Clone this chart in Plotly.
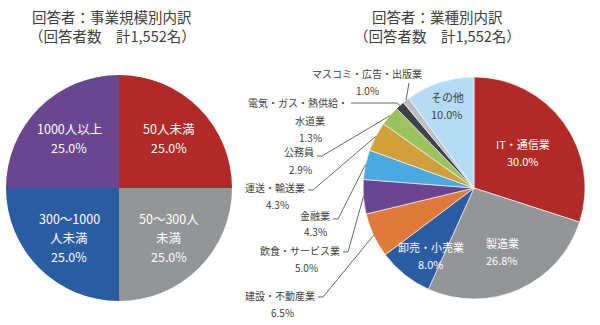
import math
import plotly.graph_objects as go

# ---------------- data ----------------
size_labels = ["50人未満", "50～300人未満", "300～1000人未満", "1000人以上"]
size_values = [25.0, 25.0, 25.0, 25.0]

ind_labels = ["IT・通信業", "製造業", "卸売・小売業", "建設・不動産業", "飲食・サービス業",
              "金融業", "運送・輸送業", "公務員", "電気・ガス・熱供給・水道業",
              "マスコミ・広告・出版業", "その他"]
ind_values = [30.0, 26.8, 8.0, 6.5, 5.0, 4.3, 4.3, 2.9, 1.3, 1.0, 10.0]

title_left = ["回答者：事業規模別内訳", "（回答者数　計1,552名）"]
title_right = ["回答者：業種別内訳", "（回答者数　計1,552名）"]

# ---------------- style ----------------
W, H = 600, 325
FONT = "Noto Sans CJK JP"
TEXT = "#404040"
size_colors = ["#B02B27", "#949597", "#2A5CA2", "#6A4590"]
ind_colors = ["#B02B27", "#949597", "#2A5CA2", "#E07A3A", "#6A4590",
              "#4BA9E1", "#D2A03A", "#9BC45E", "#3E434A", "#BCBEC0", "#B5DCF3"]

LEFT = (119, 188, 113)    # centre x, centre y, radius (pixels)
RIGHT = (474, 188, 111)


def px(x):
    return x / W


def py(y):
    return 1 - y / H


def domain(c):
    cx, cy, r = c
    return dict(x=[px(cx - r), px(cx + r)], y=[py(cy + r), py(cy - r)])


def mid_angles(values):
    total = sum(values)
    acc, out = 0.0, []
    for v in values:
        out.append(360.0 * (acc + v / 2) / total)
        acc += v
    return out


def polar(c, ang, frac):
    cx, cy, r = c
    a = math.radians(ang)
    return cx + frac * r * math.sin(a), cy - frac * r * math.cos(a)


def text_width(s, size):
    return sum(size * (0.55 if ord(ch) < 128 else 1.0) for ch in s)


annotations = []
shapes = []


def add_text(x, y, s, size, color, anchor="center"):
    annotations.append(dict(
        x=px(x), y=py(y), xref="paper", yref="paper", text=s, showarrow=False,
        xanchor=anchor, yanchor="middle",
        font=dict(family=FONT, size=size, color=color)))


def add_block(x, y, lines, size, color, spacing):
    top = y - spacing * (len(lines) - 1) / 2
    for i, s in enumerate(lines):
        add_text(x, top + i * spacing, s, size, color)


fig = go.Figure()
fig.add_trace(go.Pie(
    labels=size_labels, values=size_values, sort=False, direction="clockwise",
    rotation=0, marker=dict(colors=size_colors, line=dict(width=0)),
    textinfo="none", hoverinfo="label+percent", domain=domain(LEFT), showlegend=False))
fig.add_trace(go.Pie(
    labels=ind_labels, values=ind_values, sort=False, direction="clockwise",
    rotation=0, marker=dict(colors=ind_colors, line=dict(color="white", width=0.6)),
    textinfo="none", hoverinfo="label+percent", domain=domain(RIGHT), showlegend=False))

# titles
for cx, lines in ((112, title_left), (437, title_right)):
    add_text(cx, 17, lines[0], 14.5, TEXT)
    add_text(cx, 36, lines[1], 14.5, TEXT)

# labels inside the company-size pie
size_display = [["50人未満"], ["50～300人", "未満"], ["300～1000", "人未満"], ["1000人以上"]]
for ang, lines, v in zip(mid_angles(size_values), size_display, size_values):
    x, y = polar(LEFT, ang, 0.62)
    add_block(x, y, lines + [f"{v:.1f}%"], 12.5, "white", 19)

# labels inside the industry pie: (lines, radius fraction, angle offset, colour)
ind_angles = mid_angles(ind_values)
inside = {
    0: (["IT・通信業"], 0.55, 0, "white"),
    1: (["製造業"], 0.63, 0, "white"),
    2: (["卸売・小売業"], 0.72, -6, "white"),
    10: (["その他"], 0.78, 0, TEXT),
}
for i, (lines, frac, dang, col) in inside.items():
    x, y = polar(RIGHT, ind_angles[i] + dang, frac)
    add_block(x, y, lines + [f"{ind_values[i]:.1f}%"], 11, col, 17)

# outside labels with leader lines for the small slices
OUT_SIZE = 10
outside = {
    3: dict(lines=["建設・不動産業"], x=282, y=295, hook=[(318, 297), (323, 297)]),
    4: dict(lines=["飲食・サービス業"], x=306, y=250, hook=[(343, 252), (348, 252)]),
    5: dict(lines=["金融業"], x=315, y=215, hook=[(333, 219), (338, 219)]),
    6: dict(lines=["運送・輸送業"], x=277, y=187, hook=[(308, 190), (313, 190)]),
    7: dict(lines=["公務員"], x=300, y=152, hook=[(317, 156), (322, 156)]),
    8: dict(lines=["電気・ガス・熱供給・", "水道業"], x=310, y=103, hook=[(351, 103), (397, 103)]),
    9: dict(lines=["マスコミ・広告・出版業"], x=367, y=73, hook=[(409, 83)], free=True),
}
for i, spec in outside.items():
    lines = spec["lines"] + [f"{ind_values[i]:.1f}%"]
    limit = spec["hook"][0][0] - 3
    for k, s in enumerate(lines):
        x = spec["x"]
        if not spec.get("free"):
            x = min(x, limit - text_width(s, OUT_SIZE) / 2)
        add_text(x, spec["y"] + 17 * k, s, OUT_SIZE, TEXT)
    ex, ey = polar(RIGHT, ind_angles[i], 1.0)
    pts = spec["hook"] + [(ex, ey)]
    path = "M " + " L ".join(f"{px(a):.5f},{py(b):.5f}" for a, b in pts)
    shapes.append(dict(type="path", path=path, xref="paper", yref="paper",
                       line=dict(color=TEXT, width=0.8)))

fig.update_layout(
    width=W, height=H, margin=dict(l=0, r=0, t=0, b=0),
    paper_bgcolor="white", plot_bgcolor="white",
    annotations=annotations, shapes=shapes,
    font=dict(family=FONT, color=TEXT),
)
fig.write_html("out.html")
